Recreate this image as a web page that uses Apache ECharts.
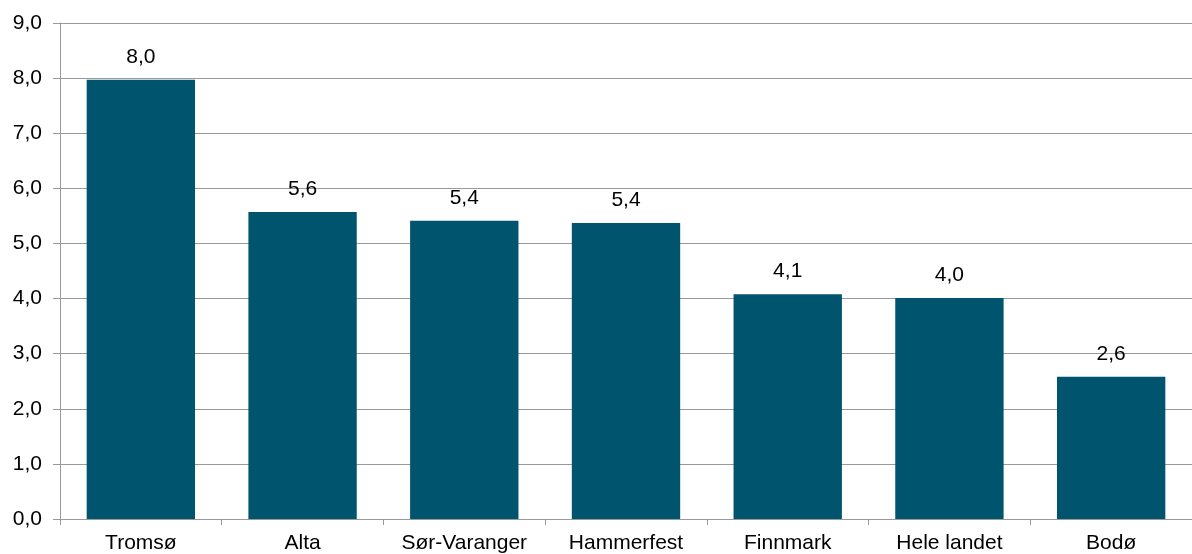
<!DOCTYPE html>
<html>
<head>
<meta charset="utf-8">
<script src="https://cdn.jsdelivr.net/npm/echarts@6/dist/echarts.min.js"></script>
<style>html,body{margin:0;padding:0;background:#fff}#c{width:1192px;height:554px}</style>
</head>
<body>
<div id="c"></div>
<script>
const categories = ["Tromsø", "Alta", "Sør-Varanger", "Hammerfest", "Finnmark", "Hele landet", "Bodø"];
const values = [7.97, 5.57, 5.41, 5.37, 4.08, 4.01, 2.58];
const yTickMin = 0, yTickMax = 9, yTickStep = 1;

const fmt = v => v.toFixed(1).replace('.', ',');
const chart = echarts.init(document.getElementById('c'), null, {renderer: 'canvas'});
chart.setOption({
  animation: false,
  textStyle: {fontFamily: 'Liberation Sans, Arial, sans-serif'},
  grid: {left: 60, right: 0, top: 23, bottom: 35, containLabel: false, outerBoundsMode: 'none'},
  xAxis: {
    type: 'category',
    data: categories,
    axisLine: {lineStyle: {color: '#999', width: 1}},
    axisTick: {show: true, interval: 0, length: 6, lineStyle: {color: '#999'}},
    axisLabel: {color: '#000', fontSize: 21, margin: 14, interval: 0, hideOverlap: false, fontFamily: 'Liberation Sans'}
  },
  yAxis: {
    type: 'value',
    min: yTickMin, max: yTickMax, interval: yTickStep,
    axisLine: {show: true, lineStyle: {color: '#999', width: 1}},
    axisTick: {show: true, length: 7, lineStyle: {color: '#999'}},
    splitLine: {lineStyle: {color: '#999', width: 1}},
    axisLabel: {color: '#000', fontSize: 21, margin: 18, formatter: v => fmt(v), fontFamily: 'Liberation Sans'}
  },
  series: [{
    type: 'bar',
    data: values,
    barWidth: '67%',
    itemStyle: {color: '#00546E'},
    label: {show: true, position: 'top', distance: 12, color: '#000', fontSize: 21,
      fontFamily: 'Liberation Sans', formatter: p => fmt(p.value)}
  }]
});
</script>
</body>
</html>
